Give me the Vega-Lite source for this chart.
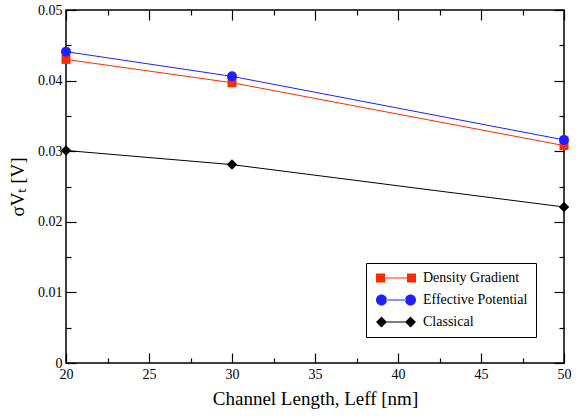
{
  "$schema": "https://vega.github.io/schema/vega-lite/v6.json",
  "width": 498,
  "height": 353,
  "autosize": {"type": "none"},
  "padding": {"left": 66, "top": 10, "right": 24, "bottom": 55},
  "background": "white",
  "config": {
    "font": "Liberation Serif",
    "view": {"stroke": "black", "strokeWidth": 1.5},
    "axis": {
      "grid": false,
      "domain": false,
      "tickColor": "black",
      "tickWidth": 1.2,
      "labelColor": "black",
      "labelFont": "Liberation Serif",
      "labelFontSize": 14,
      "titleFont": "Liberation Serif",
      "titleFontWeight": "normal",
      "titleFontSize": 19,
      "titleColor": "black"
    }
  },
  "data": {
    "values": [
      {"series": "Density Gradient", "L": 20, "sigma": 0.0430},
      {"series": "Density Gradient", "L": 30, "sigma": 0.0397},
      {"series": "Density Gradient", "L": 50, "sigma": 0.0308},
      {"series": "Effective Potential", "L": 20, "sigma": 0.0441},
      {"series": "Effective Potential", "L": 30, "sigma": 0.0406},
      {"series": "Effective Potential", "L": 50, "sigma": 0.0316},
      {"series": "Classical", "L": 20, "sigma": 0.0301},
      {"series": "Classical", "L": 30, "sigma": 0.0281},
      {"series": "Classical", "L": 50, "sigma": 0.0221}
    ]
  },
  "encoding": {
    "x": {"field": "L", "type": "quantitative", "scale": {"domain": [20, 50], "nice": false, "zero": false}},
    "y": {"field": "sigma", "type": "quantitative", "scale": {"domain": [0, 0.05], "nice": false, "zero": false}},
    "color": {
      "field": "series", "type": "nominal",
      "scale": {
        "domain": ["Density Gradient", "Effective Potential", "Classical"],
        "range": ["#ff2a00", "#1f1fff", "#000000"]
      }
    }
  },
  "layer": [
    {
      "mark": {"type": "line", "strokeWidth": 1},
      "encoding": {
        "x": {
          "field": "L", "type": "quantitative", "scale": {"domain": [20, 50], "nice": false, "zero": false},
          "axis": {
            "orient": "bottom",
            "values": [20, 25, 30, 35, 40, 45, 50],
            "tickSize": -10,
            "labelPadding": 14,
            "labelFlush": false,
            "format": "d",
            "title": "Channel Length, Leff [nm]",
            "titlePadding": 8
          }
        },
        "y": {
          "field": "sigma", "type": "quantitative", "scale": {"domain": [0, 0.05], "nice": false, "zero": false},
          "axis": {
            "orient": "left",
            "values": [0, 0.01, 0.02, 0.03, 0.04, 0.05],
            "tickSize": -10,
            "labelPadding": 14,
            "labelFlush": false,
            "format": ".2~f",
            "title": "σVₜ [V]",
            "titlePadding": 10
          }
        },
        "color": {
          "field": "series", "type": "nominal",
          "legend": {
            "orient": "none",
            "legendX": 300,
            "legendY": 253,
            "title": null,
            "strokeColor": "black",
            "fillColor": "white",
            "padding": 8,
            "labelFont": "Liberation Serif",
            "labelFontSize": 14,
            "labelColor": "black",
            "symbolSize": 100,
            "symbolOffset": 15,
            "labelOffset": 20,
            "symbolStrokeWidth": 0,
            "symbolOpacity": 1,
            "rowPadding": 8
          }
        }
      }
    },
    {
      "mark": {"type": "point", "filled": true, "opacity": 0},
      "encoding": {
        "x": {"field": "L", "type": "quantitative", "scale": {"domain": [20, 50], "nice": false, "zero": false}, "axis": {"orient": "top", "values": [20, 25, 30, 35, 40, 45, 50], "tickSize": -10, "labels": false, "title": null}},
        "y": {"field": "sigma", "type": "quantitative", "scale": {"domain": [0, 0.05], "nice": false, "zero": false}, "axis": {"orient": "right", "values": [0, 0.01, 0.02, 0.03, 0.04, 0.05], "tickSize": -10, "labels": false, "title": null}},
        "color": {"field": "series", "type": "nominal"},
        "shape": {
          "field": "series", "type": "nominal",
          "scale": {
            "domain": ["Density Gradient", "Effective Potential", "Classical"],
            "range": [
              "M-4,-0.9H-2.2V-0.1H2.2V-0.9H4V0.9H2.2V0.1H-2.2V0.9H-4Z",
              "M-4,0A1.1,1.1 0 1,0 -1.8,0A1.1,1.1 0 1,0 -4,0Z M-2,-0.1H2V0.1H-2Z M1.8,0A1.1,1.1 0 1,0 4,0A1.1,1.1 0 1,0 1.8,0Z",
              "M-4,0L-2.9,-1.1L-1.8,0L-2.9,1.1Z M-2,-0.1H2V0.1H-2Z M1.8,0L2.9,-1.1L4,0L2.9,1.1Z"
            ]
          }
        }
      }
    },
    {
      "transform": [{"filter": "datum.series === 'Density Gradient'"}],
      "mark": {"type": "point", "filled": true, "opacity": 1, "shape": "square", "size": 81},
      "encoding": {
        "x": {"field": "L", "type": "quantitative", "scale": {"domain": [20, 50], "nice": false, "zero": false}, "axis": {"orient": "bottom", "values": [22.5, 27.5, 32.5, 37.5, 42.5, 47.5], "tickSize": -5, "labels": false, "title": null}},
        "y": {"field": "sigma", "type": "quantitative", "scale": {"domain": [0, 0.05], "nice": false, "zero": false}, "axis": {"orient": "left", "values": [0.005, 0.015, 0.025, 0.035, 0.045], "tickSize": -5, "labels": false, "title": null}},
        "color": {"field": "series", "type": "nominal"}
      }
    },
    {
      "transform": [{"filter": "datum.series === 'Effective Potential'"}],
      "mark": {"type": "point", "filled": true, "opacity": 1, "shape": "circle", "size": 100},
      "encoding": {
        "x": {"field": "L", "type": "quantitative", "scale": {"domain": [20, 50], "nice": false, "zero": false}, "axis": {"orient": "top", "values": [22.5, 27.5, 32.5, 37.5, 42.5, 47.5], "tickSize": -5, "labels": false, "title": null}},
        "y": {"field": "sigma", "type": "quantitative", "scale": {"domain": [0, 0.05], "nice": false, "zero": false}, "axis": {"orient": "right", "values": [0.005, 0.015, 0.025, 0.035, 0.045], "tickSize": -5, "labels": false, "title": null}},
        "color": {"field": "series", "type": "nominal"}
      }
    },
    {
      "transform": [{"filter": "datum.series === 'Classical'"}],
      "mark": {"type": "point", "filled": true, "opacity": 1, "shape": "diamond", "size": 110},
      "encoding": {
        "x": {"field": "L", "type": "quantitative", "scale": {"domain": [20, 50], "nice": false, "zero": false}, "axis": null},
        "y": {"field": "sigma", "type": "quantitative", "scale": {"domain": [0, 0.05], "nice": false, "zero": false}, "axis": null},
        "color": {"field": "series", "type": "nominal"}
      }
    }
  ],
  "resolve": {"scale": {"x": "independent", "y": "independent"}}
}
